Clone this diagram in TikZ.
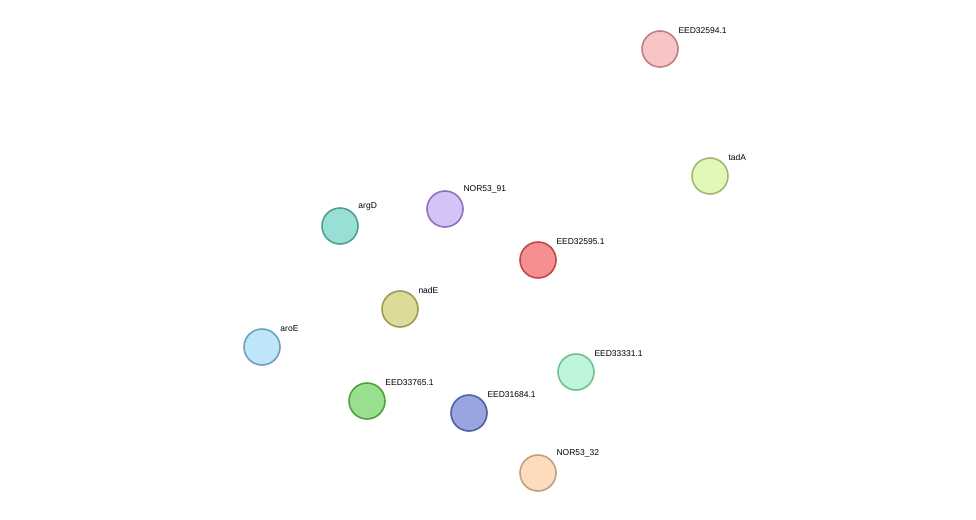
\documentclass[tikz,border=0pt]{standalone}
\usepackage{fontspec}
\setmainfont{Liberation Sans}
\usetikzlibrary{calc,backgrounds}
\definecolor{sg}{HTML}{33CC33}
\definecolor{sy}{HTML}{C8D444}
\definecolor{sb}{HTML}{3344DD}
\definecolor{sc}{HTML}{22CCDD}
\definecolor{sm}{HTML}{DD33DD}
\definecolor{sr}{HTML}{EE2222}
\definecolor{sk}{HTML}{222222}
\definecolor{fA}{HTML}{F7C5C5}\definecolor{dA}{HTML}{C08080}
\definecolor{fT}{HTML}{E0F8B8}\definecolor{dT}{HTML}{A0B870}
\definecolor{fE5}{HTML}{F58F8F}\definecolor{dE5}{HTML}{C04848}
\definecolor{fN91}{HTML}{D3C3F7}\definecolor{dN91}{HTML}{9070C0}
\definecolor{fG}{HTML}{98E0D5}\definecolor{dG}{HTML}{50A090}
\definecolor{fNE}{HTML}{DEDB98}\definecolor{dNE}{HTML}{A09A50}
\definecolor{fR}{HTML}{BFE5F8}\definecolor{dR}{HTML}{70A0C0}
\definecolor{fE7}{HTML}{9ADF8F}\definecolor{dE7}{HTML}{50A040}
\definecolor{fE1}{HTML}{9AA4E0}\definecolor{dE1}{HTML}{5060A0}
\definecolor{fE3}{HTML}{BFF5D8}\definecolor{dE3}{HTML}{70C090}
\definecolor{fN32}{HTML}{FCDCBC}\definecolor{dN32}{HTML}{C0A080}
\newcommand{\stredge}[3]{%
  \foreach \col [count=\i] in {#3} {\xdef\ncount{\i}}%
  \foreach \col [count=\i] in {#3} {%
    \pgfmathsetmacro{\off}{(\i-(\ncount+1)/2)*1.3}%
    \draw[color=\col,line width=0.9pt] ($(#1.center)!\off pt!90:(#2.center)$) -- ($(#2.center)!\off pt!-90:(#1.center)$);
  }}
\tikzset{prot/.style={circle,minimum size=36pt,inner sep=0,line width=1.6pt,fill=f#1,draw=d#1},
  lab/.style={label={[anchor=south west,inner sep=0,xshift=5pt,yshift=2pt,font=\fontsize{8.5}{10}\selectfont]45:{#1}}}}
\begin{document}
\begin{tikzpicture}[x=1pt,y=-1pt]
\fill[white] (0,0) rectangle (976,519);
\useasboundingbox (0,0) rectangle (976,519);
\node[prot=A,lab=EED32594.1] (A) at (660,49) {};
\node[prot=T,lab=tadA] (T) at (710,176) {};
\node[prot=E5,lab=EED32595.1] (E5) at (538,260) {};
\node[prot=N91,lab=NOR53\_91] (N91) at (445,209) {};
\node[prot=G,lab=argD] (G) at (340,226) {};
\node[prot=NE,lab=nadE] (NE) at (400,309) {};
\node[prot=R,lab=aroE] (R) at (262,347) {};
\node[prot=E7,lab=EED33765.1] (E7) at (367,401) {};
\node[prot=E1,lab=EED31684.1] (E1) at (469,413) {};
\node[prot=E3,lab=EED33331.1] (E3) at (576,372) {};
\node[prot=N32,lab=NOR53\_32] (N32) at (538,473) {};
\begin{scope}[on background layer]
\stredge{A}{E5}{sg}
\stredge{A}{T}{sg}
\stredge{T}{E5}{sg}
\stredge{G}{N91}{sr,sm,sg}
\stredge{G}{E5}{sy,sm,sk,sg}
\stredge{N91}{E5}{sy,sc,sb,sk}
\stredge{N91}{NE}{sg,sc,sy}
\stredge{N91}{E3}{sm,sy}
\stredge{G}{NE}{sg,sc,sb,sy}
\stredge{G}{R}{sg,sy}
\stredge{G}{E7}{sg,sk,sy}
\stredge{NE}{E5}{sc,sm,sb,sg,sy}
\stredge{R}{NE}{sm,sc,sy}
\stredge{R}{E5}{sg}
\stredge{R}{E7}{sb,sc,sk,sg}
\stredge{NE}{E7}{sg,sc,sb,sk,sy}
\stredge{NE}{E1}{sb,sc,sk,sy}
\stredge{NE}{N32}{sy,sk}
\stredge{E7}{E1}{sg,sc,sy}
\stredge{E7}{N32}{sy,sk}
\stredge{E7}{E5}{sc,sm,sg,sy}
\stredge{E1}{E5}{sk,sg,sy,sb}
\stredge{E1}{E3}{sm,sy,sc}
\stredge{E5}{E3}{sm,sy,sc}
\stredge{E5}{N32}{sy,sm,sk,sc,sg}
\stredge{E3}{N32}{sm,sy}
\end{scope}
\end{tikzpicture}
\end{document}
